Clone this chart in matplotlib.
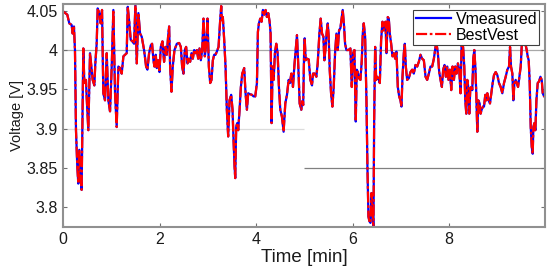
import matplotlib
matplotlib.use("Agg")
import matplotlib.pyplot as plt

plt.rcParams['font.family'] = ['Liberation Sans', 'DejaVu Sans']

time_min = [
    0.00, 0.084, 0.125, 0.174, 0.195, 0.222, 0.243, 0.264, 0.291, 0.312, 0.333, 0.361, 0.381, 0.402,
    0.416, 0.437, 0.471, 0.485, 0.520, 0.555, 0.589, 0.610, 0.645, 0.665, 0.693, 0.714, 0.748, 0.776,
    0.804, 0.831, 0.866, 0.901, 0.935, 0.970, 1.005, 1.039, 1.074, 1.108, 1.143, 1.178, 1.212, 1.247,
    1.281, 1.316, 1.337, 1.371, 1.399, 1.434, 1.468, 1.496, 1.524, 1.558, 1.593, 1.627,
    1.676, 1.718, 1.745, 1.780, 1.815, 1.842, 1.870, 1.891, 1.918, 1.939, 1.967, 1.995, 2.022, 2.057,
    2.091, 2.119, 2.147, 2.174, 2.195, 2.216, 2.244, 2.271, 2.306, 2.355, 2.403, 2.438, 2.465, 2.493,
    2.521, 2.548, 2.576, 2.604, 2.631, 2.659, 2.687, 2.715, 2.742, 2.770, 2.798, 2.825, 2.853, 2.881,
    2.908, 2.936, 2.964, 2.991, 3.019, 3.047, 3.074, 3.102, 3.130, 3.157, 3.185, 3.220, 3.254, 3.275,
    3.289, 3.309, 3.337, 3.365, 3.392, 3.420, 3.448, 3.482, 3.510, 3.531, 3.552, 3.566, 3.586, 3.607,
    3.628, 3.656, 3.683, 3.711, 3.752, 3.780, 3.808, 3.835, 3.863, 3.912, 3.946, 3.981, 4.016, 4.036,
    4.057, 4.085, 4.112, 4.140, 4.168, 4.195, 4.223, 4.251, 4.279, 4.299, 4.320, 4.341, 4.362, 4.389,
    4.417, 4.445, 4.472, 4.500, 4.535, 4.569, 4.604, 4.639, 4.673, 4.701, 4.729, 4.763, 4.791, 4.819,
    4.846, 4.874, 4.902, 4.936, 4.958, 4.975, 4.995, 5.006,
    5.027, 5.054, 5.089, 5.124, 5.158, 5.179, 5.214, 5.248, 5.276, 5.311, 5.338, 5.366, 5.394, 5.414,
    5.435, 5.463, 5.484, 5.504, 5.525, 5.553, 5.581, 5.608, 5.636, 5.664, 5.691, 5.719, 5.747, 5.768,
    5.795, 5.823, 5.844, 5.871, 5.913, 5.954, 5.982, 6.010, 6.037, 6.065, 6.086, 6.107, 6.134, 6.162,
    6.190, 6.211, 6.231, 6.259, 6.287, 6.307, 6.328, 6.349, 6.370, 6.391, 6.411, 6.432, 6.446, 6.467,
    6.488, 6.508, 6.536, 6.564, 6.591, 6.619, 6.647, 6.681,
    6.702, 6.729, 6.750, 6.771, 6.799, 6.826, 6.854, 6.882, 6.909, 6.937, 6.965, 6.992, 7.013, 7.034,
    7.062, 7.082, 7.103, 7.131, 7.165, 7.200, 7.235, 7.269, 7.304, 7.339, 7.373, 7.408, 7.442, 7.477,
    7.512, 7.546, 7.581, 7.615, 7.650, 7.685, 7.719, 7.740, 7.768, 7.795, 7.823, 7.851, 7.878, 7.906,
    7.934, 7.962, 7.989, 8.017, 8.045, 8.072, 8.100, 8.128, 8.155, 8.183, 8.211, 8.238, 8.260, 8.290,
    8.315, 8.336, 8.357, 8.377, 8.398, 8.419, 8.440, 8.461, 8.481, 8.502, 8.523, 8.544, 8.564, 8.585,
    8.606, 8.634, 8.654, 8.675, 8.703, 8.724, 8.751, 8.772, 8.793, 8.821, 8.848, 8.876, 8.904, 8.931,
    8.966, 9.001, 9.035, 9.070, 9.104, 9.139, 9.174, 9.208, 9.243, 9.264, 9.284, 9.312, 9.333, 9.354,
    9.381, 9.402, 9.430, 9.450, 9.485, 9.506, 9.534, 9.554, 9.582, 9.610, 9.630, 9.651, 9.672, 9.693,
    9.714, 9.734, 9.748, 9.769, 9.790, 9.811, 9.838, 9.866, 9.894, 9.921, 9.942, 9.970, 9.997,
]

v_measured = [
    4.049, 4.045, 4.034, 4.032, 4.021, 4.030, 4.000, 3.898, 3.852, 3.830, 3.873, 3.835, 3.822, 3.936,
    4.002, 3.958, 3.962, 3.941, 3.898, 3.996, 3.975, 3.962, 3.955, 3.983, 4.008, 4.053, 4.047, 4.034,
    4.051, 3.945, 3.936, 3.996, 3.936, 3.922, 3.979, 4.051, 3.945, 3.902, 3.979, 3.977, 3.970, 3.992,
    3.994, 3.996, 4.055, 4.034, 4.013, 4.011, 4.008, 4.057, 3.983, 4.047, 4.021, 4.017,
    4.000, 3.979, 3.975, 3.996, 4.006, 4.008, 3.987, 3.979, 3.994, 3.977, 3.987, 3.972, 4.004, 4.011,
    3.985, 4.004, 3.994, 4.017, 4.030, 3.979, 3.947, 3.979, 4.000, 4.008, 4.009, 4.004, 3.979, 3.970,
    4.000, 4.004, 3.983, 3.989, 3.985, 3.996, 3.989, 4.000, 3.996, 4.000, 3.989, 4.002, 3.987, 4.000,
    4.040, 3.992, 4.008, 4.040, 3.979, 3.958, 3.962, 3.987, 3.994, 3.994, 3.998, 4.004, 4.038, 4.056,
    4.038, 4.042, 4.013, 3.979, 3.924, 3.890, 3.936, 3.943, 3.924, 3.885, 3.852, 3.837, 3.902, 3.907,
    3.898, 3.924, 3.953, 3.970, 3.977, 3.945, 3.924, 3.945, 3.944, 3.943, 3.941, 3.941, 3.958, 4.023,
    4.034, 4.040, 4.036, 4.051, 4.045, 4.051, 4.042, 4.047, 4.036, 4.021, 3.907, 3.979, 3.962, 3.996,
    4.008, 3.996, 3.953, 3.924, 3.915, 3.896, 3.932, 3.943, 3.962, 3.958, 3.970, 3.953, 3.979, 4.000,
    4.019, 3.979, 3.932, 3.924, 3.935, 3.930, 4.000, 4.015,
    3.987, 3.989, 3.988, 3.962, 3.955, 3.970, 3.970, 3.966, 3.983, 4.021, 4.040, 4.021, 4.017, 3.987,
    4.000, 4.023, 4.034, 4.017, 3.975, 3.945, 3.928, 3.953, 3.996, 4.021, 4.000, 4.025, 4.028, 4.038,
    4.051, 4.030, 4.008, 4.000, 4.000, 4.002, 3.953, 3.996, 4.000, 3.909, 3.975, 3.972, 3.964, 3.962,
    3.987, 4.021, 4.034, 4.017, 3.936, 3.852, 3.788, 3.782, 3.780, 3.818, 3.801, 3.770, 3.907, 4.004,
    3.962, 3.966, 3.964, 3.958, 4.013, 4.036, 4.025, 4.036,
    3.996, 4.042, 4.040, 4.021, 4.008, 3.992, 3.996, 3.989, 3.998, 3.953, 3.941, 3.936, 3.928, 3.966,
    3.996, 4.008, 3.979, 3.962, 3.964, 3.972, 3.975, 3.970, 3.981, 3.979, 3.985, 3.994, 3.989, 3.987,
    3.966, 3.962, 3.970, 3.979, 3.979, 3.989, 4.004, 4.008, 3.996, 3.972, 3.962, 3.953, 3.975, 3.981,
    3.966, 3.979, 3.962, 3.975, 3.949, 3.979, 3.962, 3.979, 3.970, 3.983, 3.975, 3.945, 4.008, 4.004,
    3.979, 3.936, 3.919, 3.962, 3.953, 3.919, 3.951, 3.953, 3.949, 3.989, 4.000, 3.979, 3.945, 3.896,
    3.936, 3.932, 3.919, 3.924, 3.928, 3.928, 3.943, 3.936, 3.945, 3.936, 3.932, 3.945, 3.958, 3.968,
    3.972, 3.968, 3.958, 3.953, 3.945, 3.958, 3.966, 3.975, 3.979, 4.004, 3.979, 3.970, 3.936, 3.958,
    3.962, 3.958, 3.953, 3.962, 3.979, 4.004, 4.038, 4.034, 4.008, 4.000, 3.992, 3.987, 3.958, 3.902,
    3.877, 3.868, 3.902, 3.907, 3.898, 3.936, 3.958, 3.960, 3.966, 3.962, 3.945, 3.941, 3.941,
]

# the estimate lies on top of the measurement at this scale
v_best = list(v_measured)

x_ticks = [0, 2, 4, 6, 8]
y_ticks = [3.8, 3.85, 3.9, 3.95, 4.0, 4.05]
y_tick_labels = ['3.8', '3.85', '3.9', '3.95', '4', '4.05']

fig = plt.figure(figsize=(5.5, 2.71), dpi=100)
ax = fig.add_axes([0.115, 0.163, 0.876, 0.822])

# odd partial grid lines as in the original
ax.axhline(4.0, color='#a8a8a8', lw=0.9, zorder=0)
ax.hlines(3.9, 0, 5, color='#dcdcdc', lw=0.9, zorder=0)
ax.hlines(3.85, 5, 10, color='#808080', lw=0.9, zorder=0)

ax.plot(time_min, v_measured, color='#0000ff', lw=1.6, label='Vmeasured')
ax.plot(time_min, v_best, color='#ff0000', lw=1.6, dashes=(5, 1.2, 1.2, 1.2), label='BestVest')

ax.set_xlim(0, 9.99)
ax.set_ylim(3.775, 4.0585)
ax.set_xticks(x_ticks)
ax.set_yticks(y_ticks)
ax.set_yticklabels(y_tick_labels)
ax.tick_params(direction='in', top=True, right=True, length=3, labelsize=11.5,
               color='#707070', labelcolor='#1a1a1a', pad=4)
for s in ax.spines.values():
    s.set_color('#909090')
    s.set_linewidth(1.5)

ax.set_xlabel('Time [min]', fontsize=13.5, color='#1a1a1a', labelpad=1)
ax.set_ylabel('Voltage [V]', fontsize=10.5, color='#1a1a1a', labelpad=2)

leg = ax.legend(loc='upper right', fontsize=11.5, frameon=True, fancybox=False,
                borderaxespad=0.35, handlelength=2.2, handletextpad=0.3,
                borderpad=0.15, labelspacing=0.05)
leg.get_frame().set_edgecolor('#404040')
leg.get_frame().set_linewidth(0.8)
leg.get_frame().set_alpha(1)

fig.savefig('out.png', dpi=100)
